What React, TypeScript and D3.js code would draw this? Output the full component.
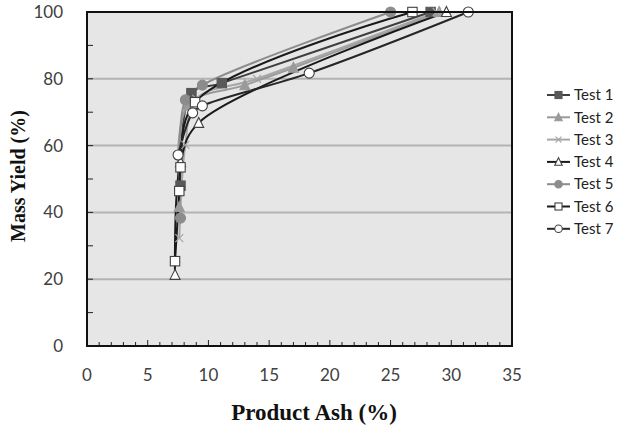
import * as d3 from "d3";

// Product ash (%) vs mass yield (%) for 7 tests
const testNames = ["Test 1", "Test 2", "Test 3", "Test 4", "Test 5", "Test 6", "Test 7"];

const test1Ash = [7.7, 8.6, 11.1, 28.3];
const test1Yield = [48, 75.7, 78.7, 100];
const test2Ash = [7.6, 8.3, 13.0, 17.0, 29.0];
const test2Yield = [41.6, 72, 78.1, 83.3, 100];
const test3Ash = [7.6, 8.1, 9.0, 14.0, 28.8];
const test3Yield = [32.3, 60.2, 74, 80, 100];
const test4Ash = [7.25, 7.7, 9.2, 29.6];
const test4Yield = [21.3, 55, 66.8, 100];
const test5Ash = [7.7, 8.1, 9.5, 25.0];
const test5Yield = [38.3, 73.7, 78.1, 100];
const test6Ash = [7.25, 7.6, 7.7, 8.9, 26.8];
const test6Yield = [25.4, 46.4, 53.5, 73, 100];
const test7Ash = [7.5, 8.7, 9.5, 18.3, 31.4];
const test7Yield = [57.2, 69.8, 71.9, 81.7, 100];

const xTicks = [0, 5, 10, 15, 20, 25, 30, 35];
const yTicks = [0, 20, 40, 60, 80, 100];

const ashSets = [test1Ash, test2Ash, test3Ash, test4Ash, test5Ash, test6Ash, test7Ash];
const yieldSets = [test1Yield, test2Yield, test3Yield, test4Yield, test5Yield, test6Yield, test7Yield];

// line colour, marker shape, marker fill
const styles = [
  { stroke: "#3f3f3f", shape: "square", fill: "#595959" },
  { stroke: "#9a9a9a", shape: "triangle", fill: "#9a9a9a" },
  { stroke: "#a6a6a6", shape: "x", fill: "none" },
  { stroke: "#1a1a1a", shape: "triangle", fill: "#ffffff" },
  { stroke: "#8c8c8c", shape: "circle", fill: "#8c8c8c" },
  { stroke: "#1a1a1a", shape: "square", fill: "#ffffff" },
  { stroke: "#262626", shape: "circle", fill: "#ffffff" },
];

const width = 621;
const height = 429;
const margin = { top: 12, left: 87, right: 109, bottom: 83 };
const innerWidth = width - margin.left - margin.right;
const innerHeight = height - margin.top - margin.bottom;

const Marker = ({ shape, fill, stroke, x, y, s = 1 }) => {
  const markStroke = fill === "#ffffff" ? "#404040" : fill;
  if (shape === "square")
    return <rect x={x - 4.7 * s} y={y - 4.7 * s} width={9.4 * s} height={9.4 * s} fill={fill} stroke={markStroke} strokeWidth={1.1} />;
  if (shape === "circle")
    return <circle cx={x} cy={y} r={5 * s} fill={fill} stroke={markStroke} strokeWidth={1.1} />;
  if (shape === "triangle")
    return (
      <path
        d={`M${x},${y - 5.5 * s}L${x + 5 * s},${y + 4.5 * s}L${x - 5 * s},${y + 4.5 * s}Z`}
        fill={fill}
        stroke={markStroke}
        strokeWidth={1.1}
      />
    );
  return (
    <path
      d={`M${x - 4 * s},${y - 4 * s}L${x + 4 * s},${y + 4 * s}M${x - 4 * s},${y + 4 * s}L${x + 4 * s},${y - 4 * s}`}
      stroke={stroke}
      strokeWidth={1.2}
    />
  );
};

export default function App() {
  const xScale = d3.scaleLinear().domain([0, 35]).range([0, innerWidth]);
  const yScale = d3.scaleLinear().domain([0, 100]).range([innerHeight, 0]);

  const line = d3
    .line<[number, number]>()
    .x((d) => xScale(d[0]))
    .y((d) => yScale(d[1]))
    .curve(d3.curveCatmullRom.alpha(0.5));

  const series = testNames.map((name, i) => ({
    name,
    style: styles[i],
    points: ashSets[i].map((a, j) => [a, yieldSets[i][j]] as [number, number]),
  }));

  const minorX = d3.range(0, 36, 1);
  const minorY = d3.range(0, 101, 10);

  return (
    <svg width={width} height={height} style={{ position: "absolute", left: 0, top: 0, background: "#fff" }}>
      <g transform={`translate(${margin.left},${margin.top})`}>
        <rect width={innerWidth} height={innerHeight} fill="#e6e6e6" />
        {yTicks.slice(1, -1).map((t) => (
          <line key={t} x1={0} x2={innerWidth} y1={yScale(t)} y2={yScale(t)} stroke="#b3b3b3" strokeWidth={2} />
        ))}
        {minorX.map((t) => (
          <line
            key={"mx" + t}
            x1={xScale(t)}
            x2={xScale(t)}
            y1={innerHeight}
            y2={innerHeight - (t % 5 === 0 ? 6 : 4)}
            stroke="#222"
            strokeWidth={1}
          />
        ))}
        {minorY.map((t) => (
          <line key={"my" + t} x1={0} x2={6} y1={yScale(t)} y2={yScale(t)} stroke="#222" strokeWidth={1} />
        ))}
        {series.map((s) => (
          <path key={s.name} d={line(s.points) || ""} fill="none" stroke={s.style.stroke} strokeWidth={2} />
        ))}
        {series.map((s) =>
          s.points.map((p, j) => (
            <Marker
              key={s.name + j}
              shape={s.style.shape}
              fill={s.style.fill}
              stroke={s.style.stroke}
              x={xScale(p[0])}
              y={yScale(p[1])}
            />
          ))
        )}
        <rect width={innerWidth} height={innerHeight} fill="none" stroke="#111" strokeWidth={2} />
        {xTicks.map((t) => (
          <text
            key={"xl" + t}
            x={xScale(t)}
            y={innerHeight + 35}
            textAnchor="middle"
            fontFamily="Lato, sans-serif"
            fontSize={17}
            fill="#404040"
          >
            {t}
          </text>
        ))}
        {yTicks.map((t) => (
          <text
            key={"yl" + t}
            x={-24}
            y={yScale(t)}
            dy="0.35em"
            textAnchor="end"
            fontFamily="Lato, sans-serif"
            fontSize={17}
            fill="#404040"
          >
            {t}
          </text>
        ))}
      </g>
      <text
        x={314}
        y={420}
        textAnchor="middle"
        fontFamily="'Liberation Serif', serif"
        fontWeight="bold"
        fontSize={23}
        fill="#111"
      >
        Product Ash (%)
      </text>
      <text
        transform="translate(25,176) rotate(-90)"
        textAnchor="middle"
        fontFamily="'Liberation Serif', serif"
        fontWeight="bold"
        fontSize={20}
        fill="#111"
      >
        Mass Yield (%)
      </text>
      {series.map((s, i) => {
        const ly = 95 + i * 22.3;
        return (
          <g key={"lg" + s.name}>
            <line x1={547} x2={570} y1={ly} y2={ly} stroke={s.style.stroke} strokeWidth={2} />
            <Marker shape={s.style.shape} fill={s.style.fill} stroke={s.style.stroke} x={558.5} y={ly} s={0.75} />
            <text x={574} y={ly} dy="0.35em" fontFamily="Lato, sans-serif" fontSize={15} fill="#222">
              {s.name}
            </text>
          </g>
        );
      })}
    </svg>
  );
}
